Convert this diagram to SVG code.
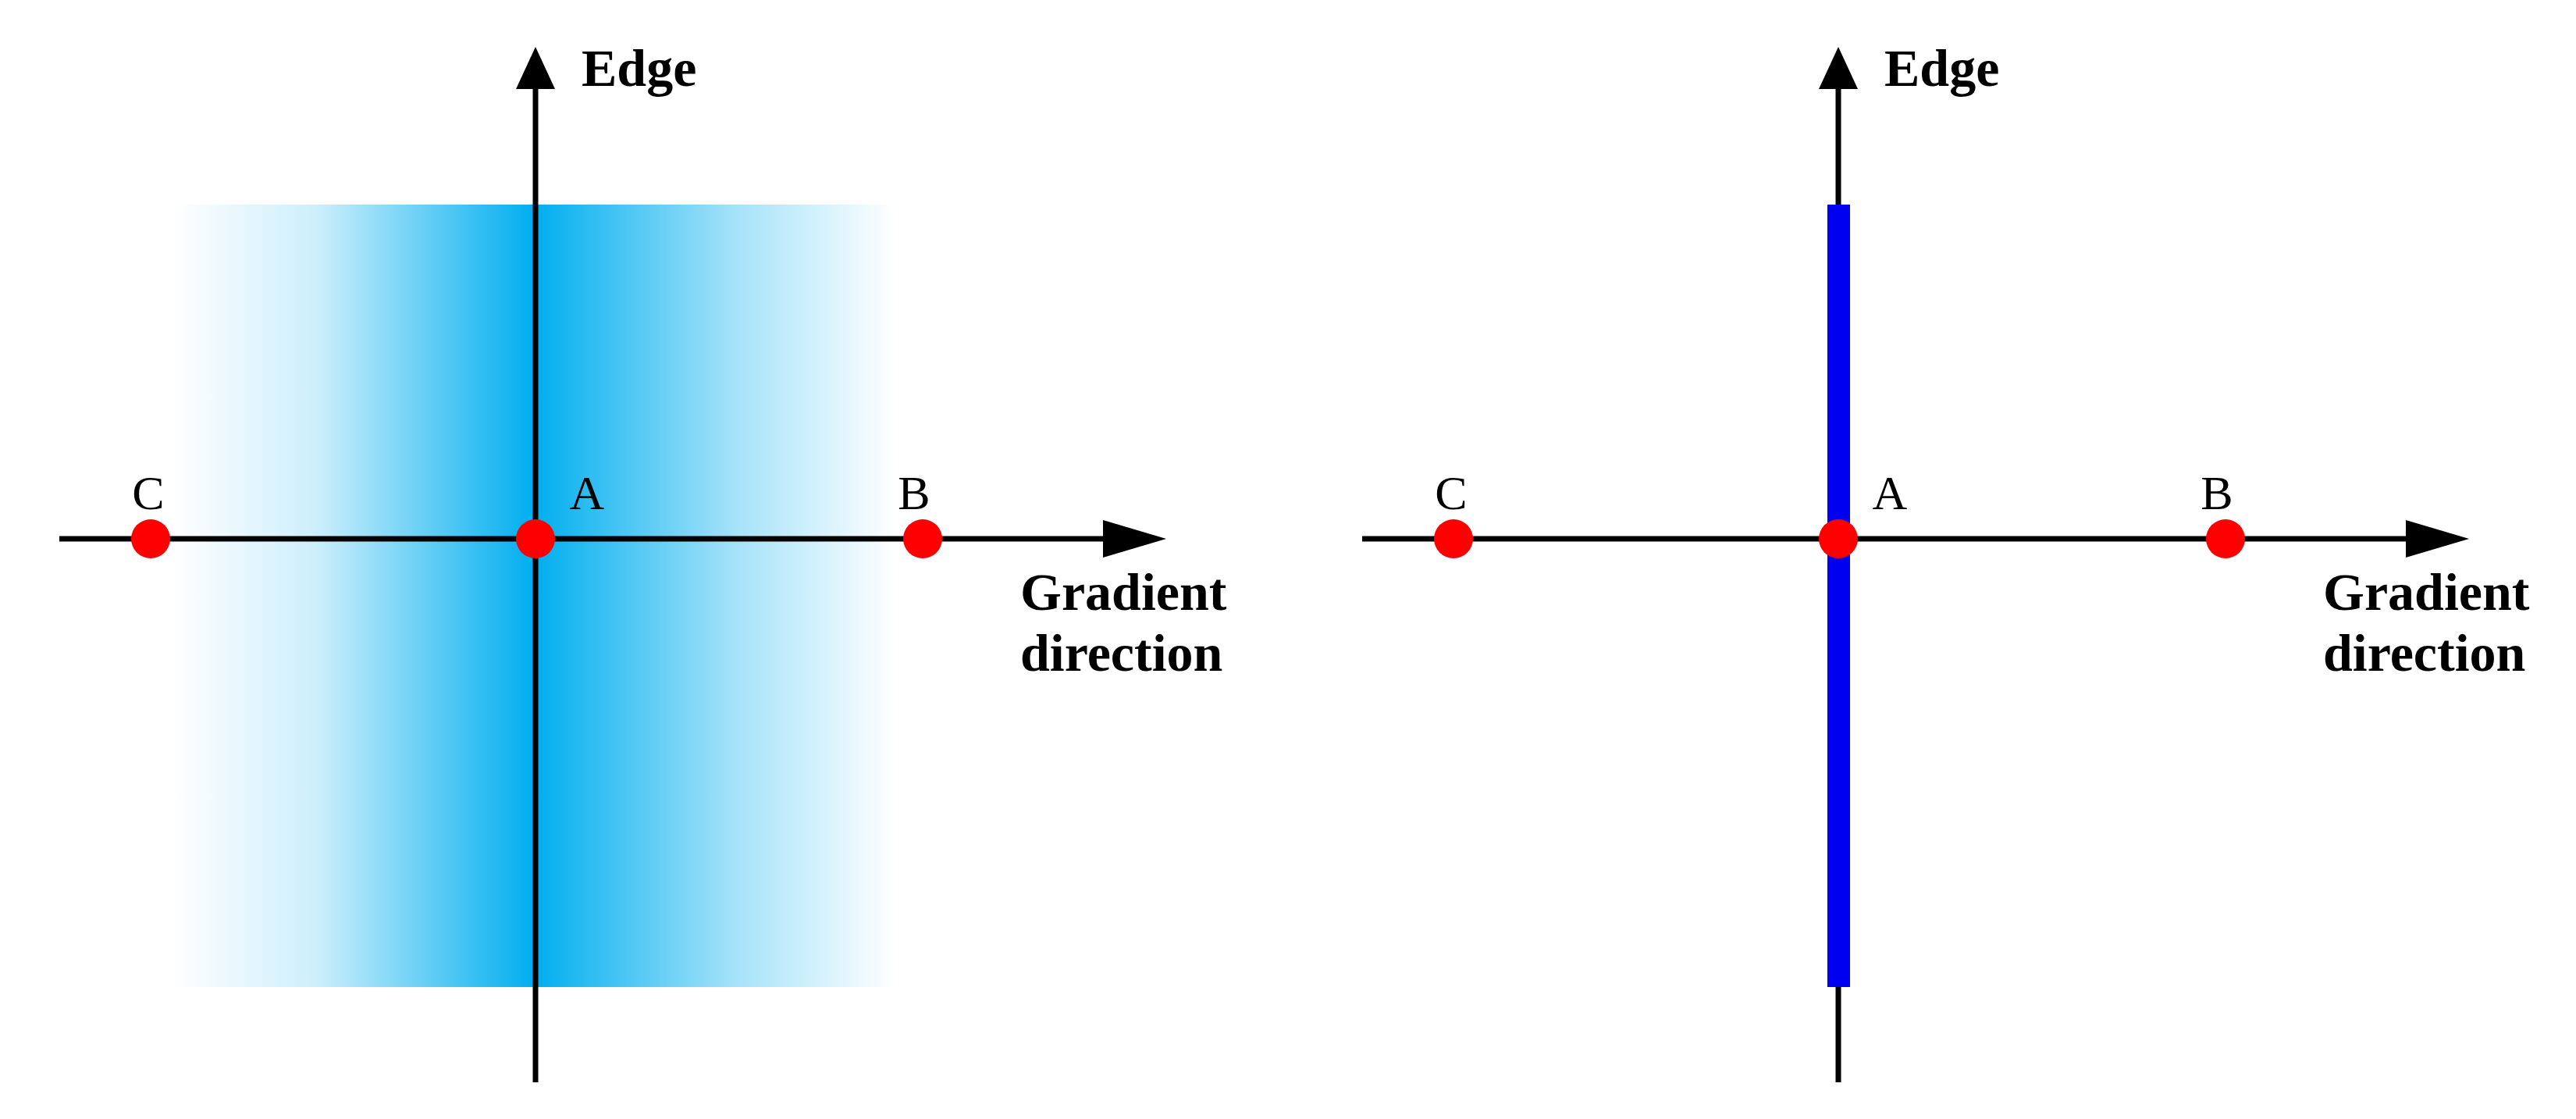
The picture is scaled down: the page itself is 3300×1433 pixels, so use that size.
<svg xmlns="http://www.w3.org/2000/svg" width="3300" height="1433" viewBox="0 0 3300 1433">
<style>
.ax{stroke:#000;stroke-width:7;fill:none}
.head{fill:#000}
.dot{fill:#FF0000}
.lbl{font-family:"Liberation Serif",serif;font-size:62px;fill:#000;text-anchor:middle}
.b{font-family:"Liberation Serif",serif;font-size:68px;font-weight:bold;fill:#000}
</style>
<defs>
<linearGradient id="g" x1="221" x2="1147" y1="0" y2="0" gradientUnits="userSpaceOnUse">
<stop offset="0" stop-color="#00AEEF" stop-opacity="0"/>
<stop offset="0.2" stop-color="#00AEEF" stop-opacity="0.2"/>
<stop offset="0.5" stop-color="#00AEEF" stop-opacity="1"/>
<stop offset="0.78" stop-color="#00AEEF" stop-opacity="0.35"/>
<stop offset="1" stop-color="#00AEEF" stop-opacity="0"/>
</linearGradient>
</defs>
<g id="left">
<rect id="band" x="221" y="262" width="926" height="1002" fill="url(#g)"/>
<g id="connectors-left">
<line class="ax" x1="686" y1="1386" x2="686" y2="110"/>
<polygon class="head" points="686,60 661,114 711,114"/>
<line class="ax" x1="76" y1="690" x2="1420" y2="690"/>
<polygon class="head" points="1494,690 1413,666 1413,714"/>
</g>
<g id="C1"><circle class="dot" cx="193" cy="690" r="25"/><text class="lbl" x="190" y="652">C</text></g>
<g id="A1"><circle class="dot" cx="686" cy="690" r="25"/><text class="lbl" x="752" y="652">A</text></g>
<g id="B1"><circle class="dot" cx="1182" cy="690" r="25"/><text class="lbl" x="1171" y="652">B</text></g>
<text class="b" x="745" y="110">Edge</text>
<text class="b" x="1307" y="781">Gradient</text>
<text class="b" x="1307" y="859">direction</text>
</g>
<g id="right" transform="translate(1669,0)">
<g id="connectors-right">
<line class="ax" x1="686" y1="1386" x2="686" y2="110"/>
<polygon class="head" points="686,60 661,114 711,114"/>
<line class="ax" x1="76" y1="690" x2="1420" y2="690"/>
<polygon class="head" points="1494,690 1413,666 1413,714"/>
</g>
<rect id="edgebar" x="672" y="262" width="29" height="1002" fill="#0000F0"/>
<g id="C2"><circle class="dot" cx="193" cy="690" r="25"/><text class="lbl" x="190" y="652">C</text></g>
<g id="A2"><circle class="dot" cx="686" cy="690" r="25"/><text class="lbl" x="752" y="652">A</text></g>
<g id="B2"><circle class="dot" cx="1182" cy="690" r="25"/><text class="lbl" x="1171" y="652">B</text></g>
<text class="b" x="745" y="110">Edge</text>
<text class="b" x="1307" y="781">Gradient</text>
<text class="b" x="1307" y="859">direction</text>
</g>
</svg>
